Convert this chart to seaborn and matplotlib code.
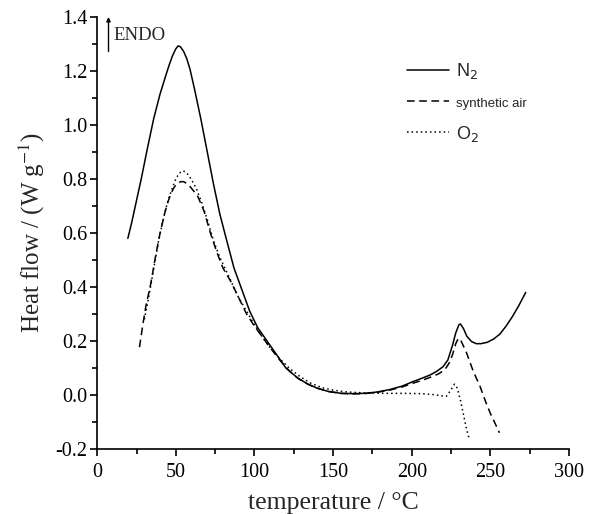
import matplotlib
matplotlib.use("Agg")
import matplotlib.pyplot as plt
import seaborn as sns
import pandas as pd
from matplotlib.ticker import MultipleLocator
from matplotlib.font_manager import FontProperties

# ---- data ----
n2_T = [19.5, 22, 25, 28, 32, 36, 40, 42.5, 44, 46, 48, 50, 51.5, 53, 55, 57, 59, 62, 66,
        70, 74, 78, 82, 87, 92, 97, 102, 108, 114, 120, 127, 134, 140, 147, 155, 162,
        170, 178, 186, 194, 201, 207, 212, 216, 220, 223, 226, 228, 230, 231, 233, 235,
        238, 241, 244, 248, 252, 256, 260, 264, 268, 272.5]
n2_V = [0.58, 0.64, 0.72, 0.80, 0.915, 1.025, 1.115, 1.162, 1.19, 1.226, 1.258, 1.282,
        1.293, 1.289, 1.272, 1.245, 1.207, 1.13, 1.02, 0.90, 0.78, 0.67, 0.58, 0.47,
        0.39, 0.31, 0.25, 0.20, 0.15, 0.10, 0.065, 0.04, 0.025, 0.013, 0.006, 0.005,
        0.006, 0.011, 0.02, 0.033, 0.05, 0.063, 0.075, 0.088, 0.105, 0.13, 0.185, 0.23,
        0.26, 0.263, 0.245, 0.218, 0.198, 0.19, 0.19, 0.195, 0.207, 0.225, 0.255, 0.29,
        0.33, 0.38]

air_T = [26.9, 29, 31, 34, 37, 40, 43, 45, 47, 49, 51, 53, 55, 57, 59, 61, 64, 68, 72,
         76, 80, 85, 90, 95, 100, 105, 110, 116, 122, 128, 134, 140, 147, 155, 162, 170,
         178, 186, 194, 201, 207, 212, 217, 221, 224, 226, 228, 229.7, 231, 233, 235,
         239, 243.5, 247, 250, 253, 255.8]
air_V = [0.177, 0.26, 0.33, 0.41, 0.51, 0.60, 0.675, 0.715, 0.747, 0.77, 0.783, 0.79,
         0.79, 0.783, 0.772, 0.758, 0.735, 0.68, 0.60, 0.53, 0.47, 0.42, 0.36, 0.30,
         0.255, 0.215, 0.175, 0.13, 0.09, 0.06, 0.04, 0.025, 0.013, 0.006, 0.004, 0.005,
         0.01, 0.018, 0.03, 0.044, 0.055, 0.066, 0.078, 0.093, 0.12, 0.15, 0.19, 0.21,
         0.205, 0.18, 0.154, 0.09, 0.031, -0.025, -0.068, -0.105, -0.14]

o2_T = [30, 33, 36, 39, 42, 45, 48, 50, 52, 54, 56, 58, 60, 63, 66, 70, 74, 78, 82, 86,
        90, 95, 100, 105, 110, 116, 122, 129, 136, 143, 150, 157, 165, 175, 185, 195,
        205, 213, 219, 222, 224.5, 227.2, 229, 231, 233, 235, 236.7]
o2_V = [0.28, 0.37, 0.47, 0.57, 0.65, 0.72, 0.77, 0.80, 0.82, 0.83, 0.827, 0.815, 0.797,
        0.765, 0.72, 0.65, 0.57, 0.51, 0.46, 0.41, 0.36, 0.31, 0.26, 0.215, 0.175, 0.135,
        0.10, 0.068, 0.043, 0.027, 0.018, 0.012, 0.009, 0.007, 0.006, 0.006, 0.005,
        0.002, -0.003, -0.005, 0.015, 0.04, 0.025, -0.02, -0.075, -0.13, -0.165]

x_ticks = [0, 50, 100, 150, 200, 250, 300]
y_ticks = [-0.2, 0.0, 0.2, 0.4, 0.6, 0.8, 1.0, 1.2, 1.4]

sns.set_style("ticks")
plt.rcParams['font.family'] = ['Liberation Serif', 'DejaVu Serif']
plt.rcParams['mathtext.fontset'] = 'stix'

fig = plt.figure(figsize=(5.89, 5.14), dpi=100)
ax = fig.add_axes([0.165, 0.1265, 0.801, 0.8405])

df_n2 = pd.DataFrame({"T": n2_T, "V": n2_V})
df_air = pd.DataFrame({"T": air_T, "V": air_V})
df_o2 = pd.DataFrame({"T": o2_T, "V": o2_V})

sns.lineplot(data=df_n2, x="T", y="V", ax=ax, color="black", lw=1.1, sort=False,
             label="N$_2$")
sns.lineplot(data=df_air, x="T", y="V", ax=ax, color="black", lw=1.1, sort=False,
             linestyle=(0, (5, 3)), label="synthetic air")
sns.lineplot(data=df_o2, x="T", y="V", ax=ax, color="black", lw=1.1, sort=False,
             linestyle=(0, (1, 2)), label="O$_2$")

ax.set_xlim(0, 300)
ax.set_ylim(-0.2, 1.4)
ax.set_xticks(x_ticks)
ax.set_yticks(y_ticks)
ax.set_xticklabels([str(t) for t in x_ticks])
ax.set_yticklabels([f"{t:.1f}" for t in y_ticks])
ax.xaxis.set_minor_locator(MultipleLocator(25))
ax.yaxis.set_minor_locator(MultipleLocator(0.1))
ax.tick_params(which="major", direction="out", length=5, width=1.2, labelsize=14.5,
               color="black", labelcolor="black")
ax.tick_params(axis="x", which="major", pad=5)
ax.tick_params(axis="y", which="major", pad=2)
ax.tick_params(which="minor", direction="out", length=3.5, width=1.2, color="black")
for s in ["top", "right"]:
    ax.spines[s].set_visible(False)
for s in ["left", "bottom"]:
    ax.spines[s].set_linewidth(1.2)
    ax.spines[s].set_color("black")

ax.set_xlabel("temperature / °C", fontsize=18.5, labelpad=7)
ax.set_ylabel("Heat flow / (W g$^{-1}$)", fontsize=18, labelpad=6)

# ENDO marker
ax.annotate("", xy=(0.024, 1.0), xycoords="axes fraction",
            xytext=(0.024, 0.92), textcoords="axes fraction",
            arrowprops=dict(arrowstyle="-|>", color="black", lw=1.0,
                            mutation_scale=6, shrinkA=0, shrinkB=0))
ax.text(0.034, 0.958, "ENDO", transform=ax.transAxes, fontsize=13.5, va="center",
        ha="left")

leg_prop = FontProperties(family="Liberation Sans", size=13, math_fontfamily="dejavusans")
leg = ax.legend(loc="upper left", bbox_to_anchor=(0.657, 0.898), frameon=False,
                prop=leg_prop, handlelength=2.3, handletextpad=0.4, labelspacing=0.75,
                borderpad=0, borderaxespad=0)
leg.get_texts()[1].set_fontsize(9.5)
for h in leg.legend_handles:
    h.set_linewidth(1.1)

fig.savefig("out.png", dpi=100)
